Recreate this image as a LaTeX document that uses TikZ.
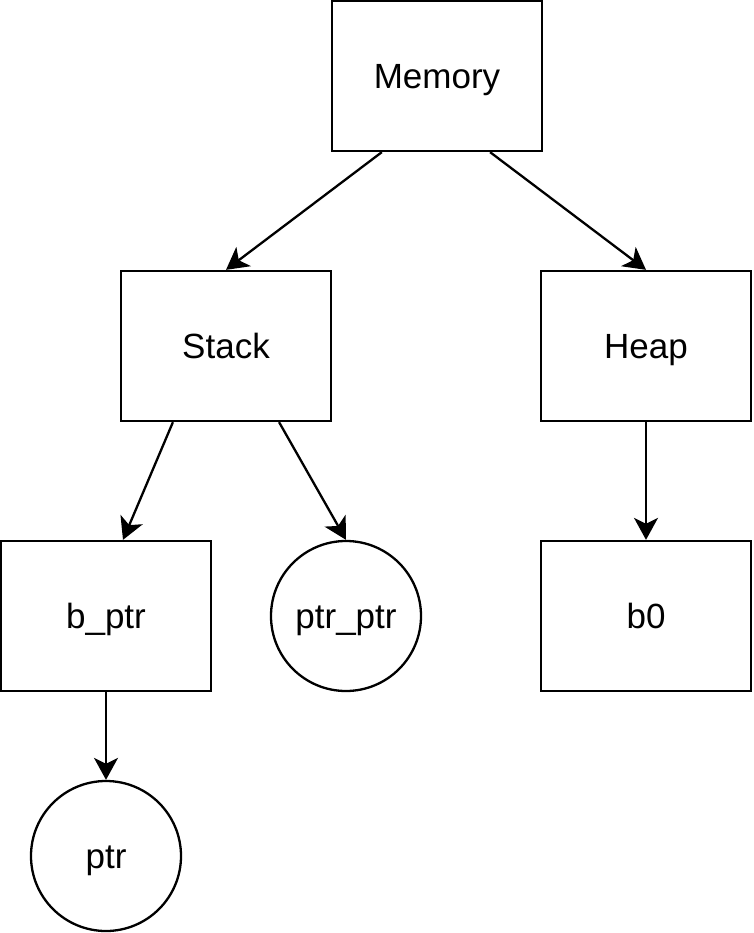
\documentclass[tikz,border=0pt]{standalone}
\usepackage{fontspec}
\setmainfont{Liberation Sans}
\usetikzlibrary{arrows.meta,calc}

\tikzset{
  block/.style={draw=black, line width=2.3pt, fill=white, rectangle,
    minimum width=210pt, minimum height=150pt, inner sep=0pt,
    font=\fontsize{35}{42}\selectfont, text height=25pt, text depth=0pt},
  blob/.style={draw=black, line width=2.3pt, fill=white, circle,
    minimum size=150pt, inner sep=0pt,
    font=\fontsize{35}{42}\selectfont, text height=25pt, text depth=0pt},
  link/.style={line width=2.3pt, draw=black,
    -{Stealth[length=22pt, width=24pt, inset=6pt]}}
}

\begin{document}
\begin{tikzpicture}[x=1pt, y=-1pt]
  \useasboundingbox (0,0) rectangle (753,933);

  % boxes and circles
  \node[block] (mem)    at (437,76)  {Memory};
  \node[block] (stack)  at (226,346) {Stack};
  \node[block] (heap)   at (646,346) {Heap};
  \node[block] (bptr)   at (106,616) {b\_ptr};
  \node[blob]  (ptrptr) at (346,616) {ptr\_ptr};
  \node[block] (bzero)  at (646,616) {b0};
  \node[blob]  (ptr)    at (106,856) {ptr};

  % connectors
  \draw[link] ($(mem.south west)!0.24!(mem.south east)$) -- (stack.north);
  \draw[link] ($(mem.south west)!0.75!(mem.south east)$) -- (heap.north);
  \draw[link] ($(stack.south west)!0.25!(stack.south east)$)
              -- ($(bptr.north west)!0.58!(bptr.north east)$);
  \draw[link] ($(stack.south west)!0.75!(stack.south east)$) -- (ptrptr.north);
  \draw[link] (heap.south) -- (bzero.north);
  \draw[link] (bptr.south) -- (ptr.north);
\end{tikzpicture}
\end{document}
